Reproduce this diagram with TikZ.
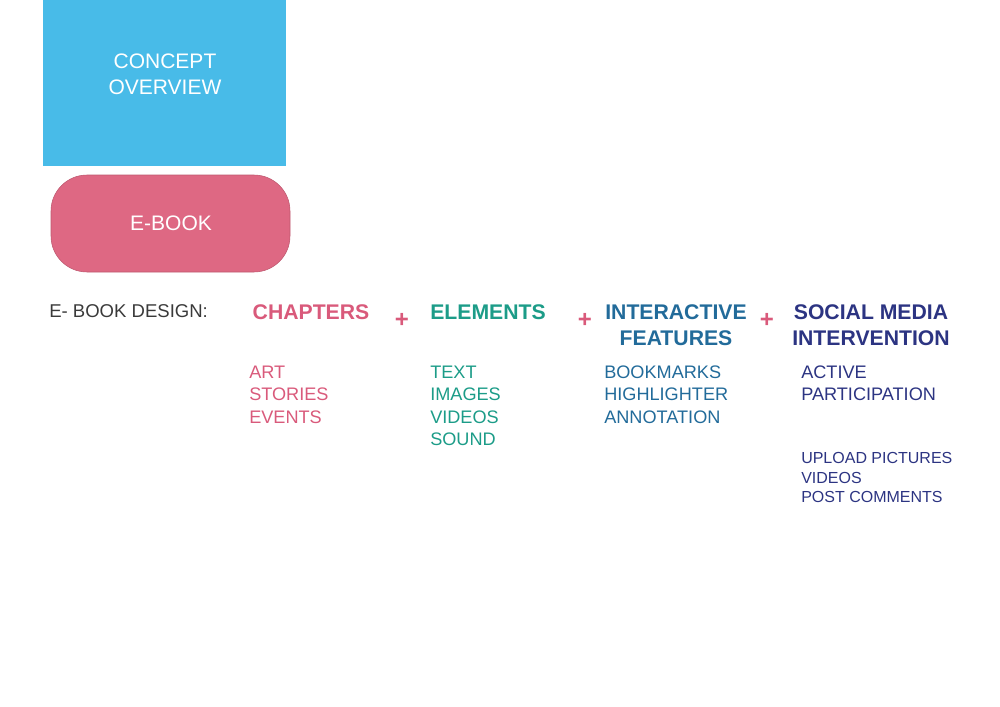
\documentclass[tikz,border=0pt]{standalone}
\usepackage{fontspec}
\setmainfont{Liberation Sans}
\definecolor{skyblue}{HTML}{48BBE8}
\definecolor{rosebox}{HTML}{DE6883}
\definecolor{rosetext}{HTML}{D95A7B}
\definecolor{tealtext}{HTML}{1C9C88}
\definecolor{steeltext}{HTML}{226B9A}
\definecolor{navytext}{HTML}{2C3482}
\definecolor{greytext}{HTML}{3A3A3A}
\tikzset{
  heading/.style={font=\bfseries\fontsize{15.9pt}{19.5pt}\selectfont, align=center, inner sep=0pt},
  listing/.style={font=\fontsize{13.6pt}{16.9pt}\selectfont, align=left, anchor=north west, inner sep=0pt},
  plussign/.style={font=\bfseries\fontsize{18pt}{18pt}\selectfont, text=rosetext, inner sep=0pt}
}
\begin{document}
\begin{tikzpicture}[x=0.75pt,y=-0.75pt]

\useasboundingbox (0,0) rectangle (1000,707);

\fill[skyblue] (43,0) rectangle (286,166);
\node[text=white, align=center, font=\fontsize{15.75pt}{19.5pt}\selectfont] (concept) at (165,74) {CONCEPT\\OVERVIEW};

\fill[rosebox, draw=rosebox!85!black, line width=0.4pt, rounded corners=27pt] (51,175) rectangle (290,272);
\node[text=white, font=\fontsize{15.75pt}{19.5pt}\selectfont] (ebook) at (171,223) {E-BOOK};

\node[text=greytext, anchor=west, inner sep=0pt, font=\fontsize{13.9pt}{16pt}\selectfont] (design) at (49,311) {E- BOOK DESIGN:};

\node[heading, text=rosetext] (chapters) at (311,312) {CHAPTERS};
\node[heading, text=tealtext] (elements) at (488,312) {ELEMENTS};
\node[heading, text=steeltext] (interactive) at (676,325) {INTERACTIVE\\FEATURES};
\node[heading, text=navytext] (social) at (871,325) {SOCIAL MEDIA\\INTERVENTION};

\node[plussign] (plusa) at (402,320) {+};
\node[plussign] (plusb) at (585,320) {+};
\node[plussign] (plusc) at (767,320) {+};

\node[listing, text=rosetext] (chapterlist) at (249,365.5) {ART\\STORIES\\EVENTS};
\node[listing, text=tealtext] (elementlist) at (430,365.5) {TEXT\\IMAGES\\VIDEOS\\SOUND};
\node[listing, text=steeltext] (featurelist) at (604,365.5) {BOOKMARKS\\HIGHLIGHTER\\ANNOTATION};
\node[listing, text=navytext] (activelist) at (801,365.5) {ACTIVE\\PARTICIPATION};
\node[listing, text=navytext, font=\fontsize{12pt}{14.6pt}\selectfont] (uploadlist) at (801,452.5) {UPLOAD PICTURES\\VIDEOS\\POST COMMENTS};

\end{tikzpicture}
\end{document}
